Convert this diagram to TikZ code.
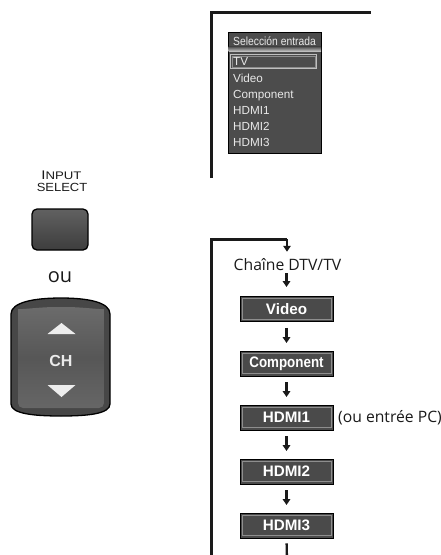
\documentclass[tikz,border=0pt]{standalone}
\usepackage{fontspec}
\usepackage{graphicx}
\setmainfont{Liberation Sans}
\newfontfamily\osans{Open Sans}
\usetikzlibrary{arrows.meta}
\definecolor{boxgray}{HTML}{4A4A4A}
\definecolor{bevel}{HTML}{8E8E8E}
\definecolor{menubg}{HTML}{4C4C4C}
\definecolor{menutxt}{HTML}{E8E8E8}
\definecolor{ink}{HTML}{1A1A1A}
\tikzset{
  bracket/.style={draw=ink, line width=3pt, line join=miter, line cap=butt},
  flowarrow/.style={draw=ink, line width=2.3pt, -{Triangle[width=7.5pt,length=6pt]}},
  flowbox/.style={draw=black, line width=0.9pt, fill=boxgray, minimum width=93pt, minimum height=25pt,
    inner sep=0pt, text=white, font=\bfseries\fontsize{15.2}{15.2}\selectfont,
    path picture={\draw[bevel, line width=0.8pt]
      ([xshift=2pt,yshift=2.2pt]path picture bounding box.south west) rectangle
      ([xshift=-2pt,yshift=-2.2pt]path picture bounding box.north east);}},
  menutext/.style={text=menutxt, inner sep=0pt, anchor=base west, font=\fontsize{11.7}{11.7}\selectfont},
  osanstext/.style={inner sep=0pt, text=ink, font=\osans\fontsize{15.7}{15.7}\selectfont},
  remotelbl/.style={anchor=base, inner sep=0pt, text=ink},
}
\begin{document}
\begin{tikzpicture}[x=1pt,y=-1pt]
\useasboundingbox (0,0) rectangle (441,555);

% ---------- top bracket and menu ----------
\coordinate (tl) at (211,178);
\coordinate (tc) at (211,12.5);
\coordinate (tr) at (371,12.5);
\draw[bracket] (tl) -- (tc) -- (tr);

\draw[draw=black, line width=0.9pt, fill=menubg] (228,32) rectangle (321.5,153);
\shade[top color=menubg, bottom color=white!70!menubg] (228.5,46.5) rectangle (321,51.5);
\draw[draw=white!75!black, line width=1pt] (230.5,54.5) rectangle (316.5,68.5);
\draw[draw=white!55!black, line width=0.7pt] (232,56) rectangle (315,67);
\node[menutext, font=\fontsize{11.8}{11.8}\selectfont] (hdr) at (233,45) {\scalebox{0.875}[1]{Selección entrada}};
\node[menutext] (mtv) at (233,65.8) {TV};
\node[menutext] (mvideo) at (233,82) {Video};
\node[menutext] (mcomp) at (233,98) {Component};
\node[menutext] (mh1) at (233,114) {HDMI1};
\node[menutext] (mh2) at (233,130) {HDMI2};
\node[menutext] (mh3) at (233,146) {HDMI3};

% ---------- remote buttons ----------
\node[remotelbl, text depth=0pt] (inputlbl) at (61.5,179.5)
  {\scalebox{1.2}[1]{{\fontsize{12.5}{12.5}\selectfont I}{\fontsize{11}{11}\selectfont NPUT}}};
\node[remotelbl, text height=8.5pt, font=\fontsize{11.8}{11.8}\selectfont] (selectlbl) at (62,191)
  {\scalebox{1.1}[1]{SELECT}};

\draw[black, line width=1.3pt, rounded corners=5pt, top color=white!38!black, bottom color=white!24!black]
  (32,209) rectangle (88,250);

\node[anchor=base, inner sep=0pt, text=ink, font=\osans\fontsize{20}{20}\selectfont] (ou) at (60,282) {ou};

% CH rocker
\draw[black, line width=1.3pt, fill=white!28!black]
  (11,314) -- (11,404) .. controls (11,414) and (35,416) .. (61,416)
  .. controls (87,416) and (110,414) .. (110,404) -- (110,314)
  .. controls (110,302) and (87,298) .. (61,298) .. controls (35,298) and (11,302) .. (11,314) -- cycle;
\shade[rounded corners=5pt, top color=white!42!black, bottom color=white!40!black, middle color=white!34!black]
  (18,314) .. controls (18,310) and (40,307) .. (61,307) .. controls (82,307) and (104,310) .. (104,314)
  -- (104,408) -- (18,408) -- cycle;
\fill[white!93!black] (47.5,334) -- (75.5,334) -- (61.5,323) -- cycle;
\fill[white!93!black] (47.5,385) -- (75.5,385) -- (61.5,397) -- cycle;
\node[anchor=base, inner sep=0pt, text=white!92!black, font=\bfseries\fontsize{16}{16}\selectfont] (ch) at (61,366.5) {CH};

% ---------- flow ----------
\node[osanstext, anchor=base] (chaine) at (287.5,270) {Chaîne DTV/TV};
\node[flowbox] (video) at (286.5,309) {Video};
\node[flowbox] (comp) at (286.5,363.5) {\scalebox{0.88}[1]{Component}};
\node[flowbox] (hdmi1) at (286.5,417.5) {HDMI1};
\node[osanstext, anchor=west] (pc) at (338,417.5) {(ou entrée PC)};
\node[flowbox] (hdmi2) at (286.5,471.5) {HDMI2};
\node[flowbox] (hdmi3) at (286.5,525.5) {HDMI3};

\coordinate (bl) at (211.5,560);
\coordinate (bc) at (211.5,239);
\coordinate (bk) at (287,239);
\coordinate (bend) at (287,560);
\draw[bracket] (bl) -- (bc) -- (bk);
\draw[flowarrow, shorten >=6pt] (bk) -- (chaine.north -| bk);
\draw[flowarrow, shorten <=3pt, shorten >=9pt] (chaine.south -| video.north) -- (video.north);
\draw[flowarrow, shorten <=6pt, shorten >=7.5pt] (video) -- (comp);
\draw[flowarrow, shorten <=6pt, shorten >=7.5pt] (comp) -- (hdmi1);
\draw[flowarrow, shorten <=6pt, shorten >=7.5pt] (hdmi1) -- (hdmi2);
\draw[flowarrow, shorten <=6pt, shorten >=7.5pt] (hdmi2) -- (hdmi3);
\draw[draw=ink, line width=2.3pt, shorten <=5pt] (hdmi3.south) -- (bend);
\end{tikzpicture}
\end{document}
